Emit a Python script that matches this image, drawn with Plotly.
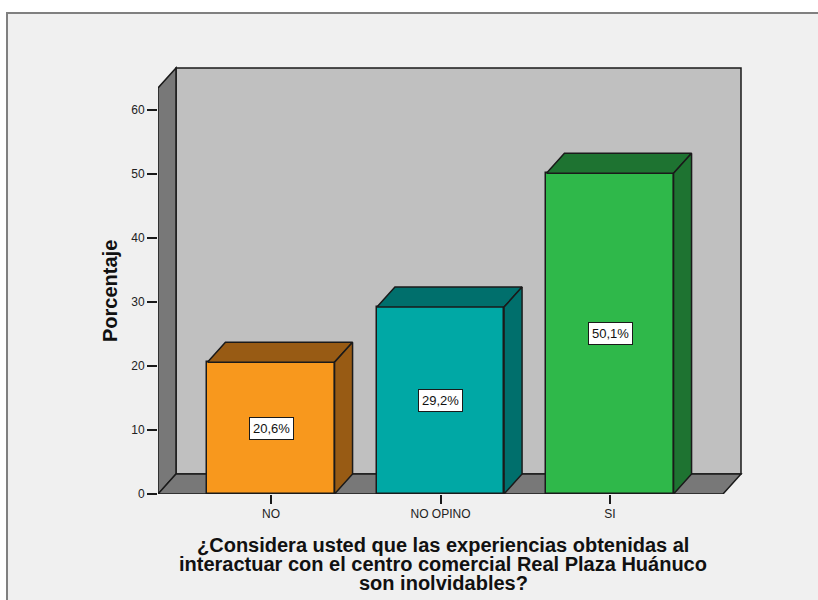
import plotly.graph_objects as go

# Survey results
categories = ["NO", "NO OPINO", "SI"]
percentages = [20.6, 29.2, 50.1]
label_texts = ["20,6%", "29,2%", "50,1%"]
y_ticks = [0, 10, 20, 30, 40, 50, 60]
x_title_lines = [
    "¿Considera usted que las experiencias obtenidas al",
    "interactuar con el centro comercial Real Plaza Huánuco",
    "son inolvidables?",
]
y_title = "Porcentaje"

front_colors = ["#F8981D", "#00A8A5", "#2FB84A"]
dark_colors = ["#985B14", "#006F6C", "#1E7331"]

FONT = "Liberation Sans, Arial"

# Figure geometry (pixels)
W, H = 818, 600
L, R, T, B = 158, 74, 64, 106
px_per_cat = 169.5
px_per_unit = 6.4
x_lo = -2 / 3
x_hi = x_lo + (W - L - R) / px_per_cat
y_hi = (H - T - B) / px_per_unit

# 3D depth offset in data units
DX = 18 / px_per_cat
DY = 20 / px_per_unit
HALF = 0.375
WALL_TOP = 63.44
x_front_end = 2 + 2 / 3


def px_to_paper(px, py):
    return (px - L) / (W - L - R), (H - B - py) / (H - T - B)


def path(points):
    return "M " + " L ".join(f"{x},{y}" for x, y in points) + " Z"


shapes = []

# Outer frame
fx0, fy0 = px_to_paper(7, 13)
fx1, fy1 = px_to_paper(840, 620)
shapes.append(dict(type="rect", xref="paper", yref="paper", x0=fx0, y0=fy1, x1=fx1, y1=fy0,
                   fillcolor="#F0F0F0", line=dict(color="#808080", width=2), layer="below"))

wall_line = dict(color="#1a1a1a", width=1.5)
# Back wall
shapes.append(dict(type="path", xref="x", yref="y", layer="below",
                   path=path([(x_lo + DX, DY), (x_front_end + DX, DY),
                              (x_front_end + DX, WALL_TOP + DY), (x_lo + DX, WALL_TOP + DY)]),
                   fillcolor="#C0C0C0", line=wall_line))
# Left side wall
shapes.append(dict(type="path", xref="x", yref="y", layer="below",
                   path=path([(x_lo, 0), (x_lo + DX, DY), (x_lo + DX, WALL_TOP + DY), (x_lo, WALL_TOP)]),
                   fillcolor="#787878", line=wall_line))
# Floor
shapes.append(dict(type="path", xref="x", yref="y", layer="below",
                   path=path([(x_lo, 0), (x_front_end, 0), (x_front_end + DX, DY), (x_lo + DX, DY)]),
                   fillcolor="#787878", line=wall_line))

fig = go.Figure()

xs = list(range(len(categories)))

# Front faces of the bars
fig.add_trace(go.Bar(x=xs, y=percentages, width=2 * HALF,
                     marker=dict(color=front_colors, line=dict(color="#1a1a1a", width=1.5)),
                     hoverinfo="skip", showlegend=False))

# Top and side faces
for i, v in enumerate(percentages):
    top = [(i - HALF, v), (i - HALF + DX, v + DY), (i + HALF + DX, v + DY), (i + HALF, v), (i - HALF, v)]
    side = [(i + HALF, 0), (i + HALF, v), (i + HALF + DX, v + DY), (i + HALF + DX, DY), (i + HALF, 0)]
    for face in (top, side):
        fig.add_trace(go.Scatter(x=[p[0] for p in face], y=[p[1] for p in face],
                                 mode="lines", fill="toself", fillcolor=dark_colors[i],
                                 line=dict(color="#1a1a1a", width=1.5),
                                 hoverinfo="skip", showlegend=False))

annotations = []
for i, (v, t) in enumerate(zip(percentages, label_texts)):
    annotations.append(dict(x=i, y=v / 2, xref="x", yref="y", text=t, showarrow=False,
                            font=dict(family=FONT, size=13, color="#111"),
                            bgcolor="white", bordercolor="#1a1a1a", borderwidth=1, borderpad=3))

# Axis titles
ax, ay = px_to_paper(110, 291)
annotations.append(dict(x=ax, y=ay, xref="paper", yref="paper", text=f"<b>{y_title}</b>",
                        textangle=-90, showarrow=False,
                        font=dict(family=FONT, size=20, color="#111"),
                        xanchor="center", yanchor="middle"))
for line, py in zip(x_title_lines, [545, 564, 583]):
    tx, ty = px_to_paper(443, py)
    annotations.append(dict(x=tx, y=ty, xref="paper", yref="paper", text=f"<b>{line}</b>",
                            showarrow=False, align="center",
                            font=dict(family=FONT, size=20, color="#111"),
                            xanchor="center", yanchor="middle"))

fig.update_layout(
    width=W, height=H,
    margin=dict(l=L, r=R, t=T, b=B, pad=0),
    paper_bgcolor="white",
    plot_bgcolor="rgba(0,0,0,0)",
    shapes=shapes,
    annotations=annotations,
    bargap=0,
    xaxis=dict(range=[x_lo, x_hi], tickvals=xs, ticktext=categories,
               ticks="outside", ticklen=9, tickcolor="#1a1a1a", tickwidth=1.5,
               showgrid=False, zeroline=False, showline=False,
               tickfont=dict(family=FONT, size=12, color="#222")),
    yaxis=dict(range=[0, y_hi], tickvals=y_ticks,
               ticks="outside", ticklen=10, tickcolor="#1a1a1a", tickwidth=1.5,
               showgrid=False, zeroline=False, showline=False,
               tickfont=dict(family=FONT, size=12, color="#222")),
)

fig.write_html("out.html")
